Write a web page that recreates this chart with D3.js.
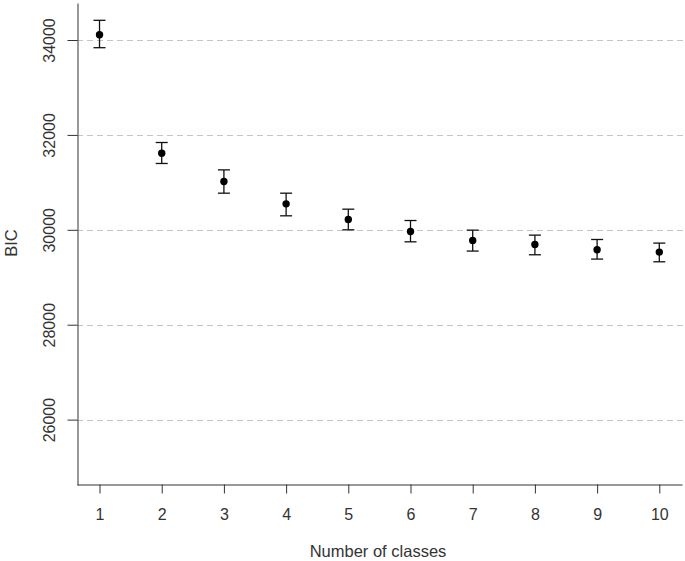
<!DOCTYPE html>
<html><head><meta charset="utf-8">
<script src="https://cdn.jsdelivr.net/npm/d3@7"></script>
<style>body{margin:0;background:#fff}svg{display:block}text{font-family:"Liberation Sans",Arial,sans-serif;fill:#333}</style>
</head><body>
<script>
const classes = [1,2,3,4,5,6,7,8,9,10];
const bic     = [34112,31615,31017,30547,30217,29965,29775,29690,29579,29530];
const bicLow  = [33838,31398,30772,30295,30000,29747,29552,29474,29383,29326];
const bicHigh = [34415,31840,31263,30772,30435,30196,29993,29888,29796,29720];
const yTicks  = [26000,28000,30000,32000,34000];
const xTicks  = [1,2,3,4,5,6,7,8,9,10];

const W=685,H=561;
const svg=d3.select("body").append("svg").attr("width",W).attr("height",H);
const x=d3.scaleLinear().domain([0.638,10.365]).range([77,682]);
const y=d3.scaleLinear().domain([24622,34780]).range([485,3]);

// grid
svg.append("g").selectAll("line").data(yTicks).join("line")
  .attr("x1",77).attr("x2",683).attr("y1",d=>Math.round(y(d))+0.5).attr("y2",d=>Math.round(y(d))+0.5)
  .attr("stroke","#c4c4c4").attr("stroke-width",1.2).attr("stroke-dasharray","6,4");

// axes
const xa=svg.append("g").attr("transform","translate(0,484.5)")
  .call(d3.axisBottom(x).tickValues(xTicks).tickSize(9).tickSizeOuter(0).tickFormat(d3.format("d")));
const ya=svg.append("g").attr("transform","translate(77.5,0)")
  .call(d3.axisLeft(y).tickValues(yTicks).tickSize(10).tickSizeOuter(0).tickFormat(d3.format("d")));
[xa,ya].forEach(a=>{a.select(".domain").attr("stroke","#333");a.selectAll(".tick line").attr("stroke","#333");});
xa.selectAll(".tick text").attr("font-size",16).attr("fill","#333").attr("dy","0.35em").attr("y",29.5);
ya.selectAll(".tick text").attr("font-size",16).attr("fill","#333").attr("x",null).attr("y",null)
  .attr("text-anchor","middle").attr("dy","0.35em").attr("transform","translate(-28,0) rotate(-90)");

// error bars
const g=svg.append("g");
classes.forEach((c,i)=>{
  const cx=x(c);
  g.append("line").attr("x1",cx).attr("x2",cx).attr("y1",y(bicLow[i])).attr("y2",y(bicHigh[i])).attr("stroke","#111").attr("stroke-width",1.3);
  g.append("line").attr("x1",cx-6).attr("x2",cx+6).attr("y1",y(bicLow[i])).attr("y2",y(bicLow[i])).attr("stroke","#111").attr("stroke-width",1.3);
  g.append("line").attr("x1",cx-6).attr("x2",cx+6).attr("y1",y(bicHigh[i])).attr("y2",y(bicHigh[i])).attr("stroke","#111").attr("stroke-width",1.3);
});
g.selectAll("circle").data(classes).join("circle")
  .attr("cx",d=>x(d)).attr("cy",(d,i)=>y(bic[i])).attr("r",3.7).attr("fill","#000");

// labels
svg.append("text").attr("x",378).attr("y",557).attr("text-anchor","middle").attr("font-size",16.5).text("Number of classes");
svg.append("text").attr("transform","translate(17,243) rotate(-90)").attr("text-anchor","middle").attr("font-size",16.5).text("BIC");
</script>
</body></html>
